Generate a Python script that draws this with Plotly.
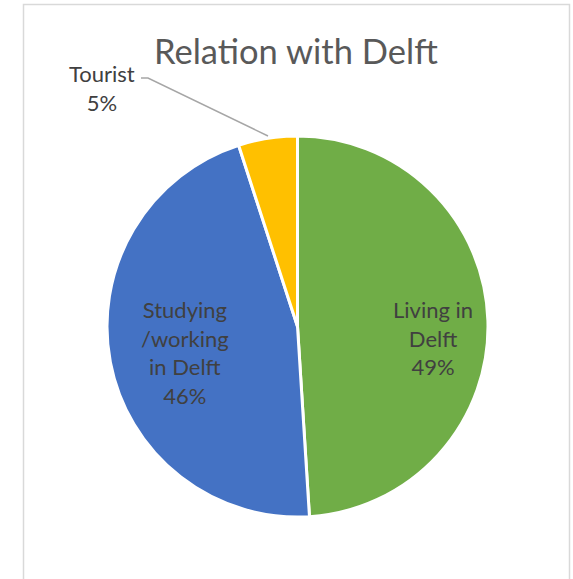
import plotly.graph_objects as go

W, H = 573, 579

categories = ["Living in Delft", "Studying /working in Delft", "Tourist"]
values = [49, 46, 5]
colors = ["#70AD47", "#4472C4", "#FFC000"]
label_texts = ["Living in<br>Delft<br>49%", "Studying<br>/working<br>in Delft<br>46%", "Tourist<br>5%"]
title_text = "Relation with Delft"

FONT = "Lato"
TXT = "#404040"


def px(x, y):
    return x / W, 1 - y / H


fig = go.Figure()
fig.add_trace(go.Pie(
    labels=categories,
    values=values,
    sort=False,
    direction="clockwise",
    rotation=0,
    marker=dict(colors=colors, line=dict(color="white", width=3)),
    textinfo="none",
    hoverinfo="label+percent",
    showlegend=False,
    domain=dict(x=[107 / W, 488 / W], y=[1 - 517 / H, 1 - 136 / H]),
))

annots = []
# title
tx, ty = px(296, 50)
annots.append(dict(x=tx, y=ty, xref="paper", yref="paper", text=title_text, showarrow=False,
                   font=dict(family=FONT, size=34.5, color="#595959"), xanchor="center", yanchor="middle"))
# slice labels
pos = [(433, 338), (185, 352), (102, 88)]
for (lx, ly), t in zip(pos, label_texts):
    ax_, ay_ = px(lx, ly)
    annots.append(dict(x=ax_, y=ay_, xref="paper", yref="paper", text=t, showarrow=False,
                       font=dict(family=FONT, size=22, color=TXT), xanchor="center", yanchor="middle"))

x0, y0 = px(141, 78)
x1, y1 = px(148, 78)
x2, y2 = px(268, 136)
shapes = [
    dict(type="path", xref="paper", yref="paper",
         path=f"M {x0} {y0} L {x1} {y1} L {x2} {y2}",
         line=dict(color="#A6A6A6", width=1.5)),
    dict(type="rect", xref="paper", yref="paper",
         x0=23.5 / W, x1=569.5 / W, y0=-0.05, y1=1 - 4.5 / H,
         line=dict(color="#D9D9D9", width=1.5), fillcolor="rgba(0,0,0,0)"),
]

fig.update_layout(
    width=W, height=H,
    margin=dict(l=0, r=0, t=0, b=0),
    paper_bgcolor="white", plot_bgcolor="white",
    annotations=annots, shapes=shapes,
)
fig.write_html("out.html")
